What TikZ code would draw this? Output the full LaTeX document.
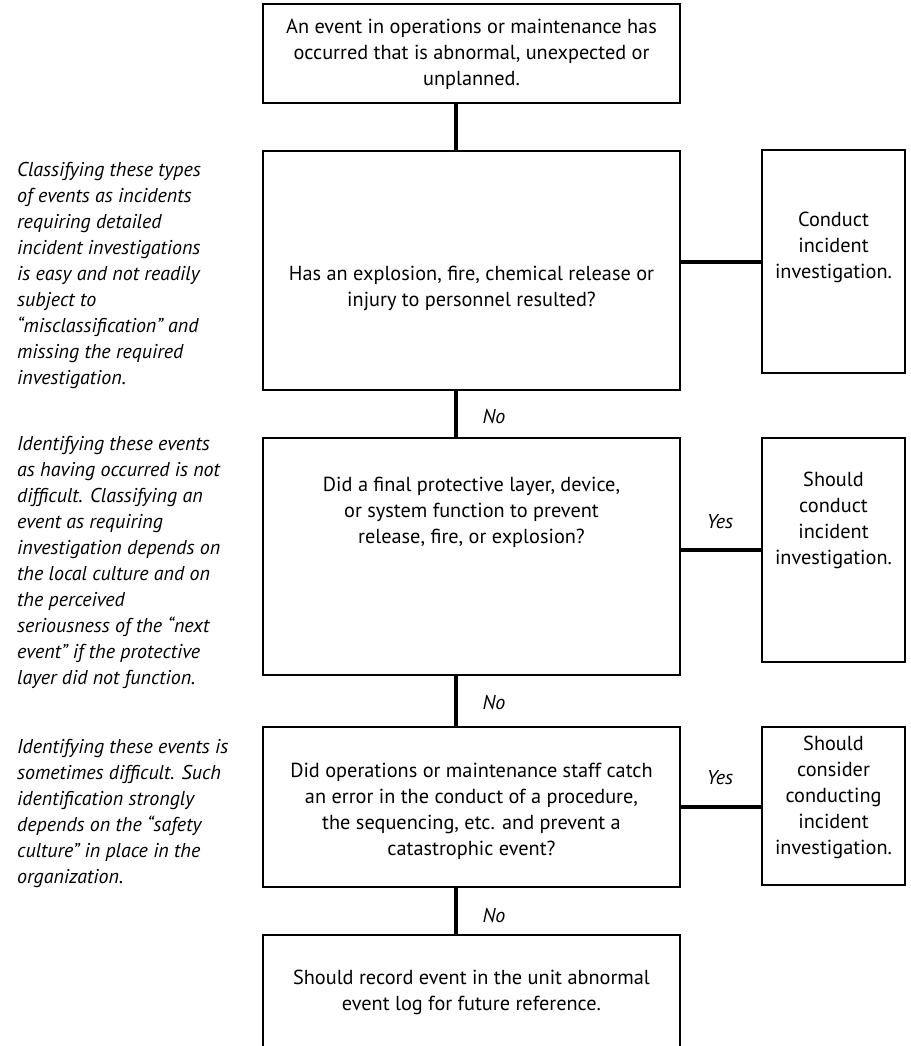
\documentclass[tikz,border=0pt]{standalone}
\usepackage{fontspec}
\setmainfont{PT Sans}
\begin{document}
\begin{tikzpicture}[x=1pt,y=-1pt,
  box/.style={draw, line width=1.8pt, inner sep=0pt, outer sep=0pt},
  txt/.style={align=center, font=\fontsize{20.3}{26}\selectfont, inner sep=0pt},
  note/.style={align=left, anchor=west, font=\fontsize{20}{26}\selectfont\itshape, inner sep=0pt},
  lbl/.style={font=\fontsize{20}{26}\selectfont\itshape, inner sep=0pt},
  conn/.style={line width=3.5pt}]
\fill[white] (0,0) rectangle (910,1046);
\useasboundingbox (0,0) rectangle (910,1046);
\clip (0,0) rectangle (910,1046);

% decision column
\node[box, minimum width=417pt, minimum height=99pt]  (top) at (471.5,53.5) {};
\node[box, minimum width=417pt, minimum height=239pt] (q1)  at (471.5,270.5) {};
\node[box, minimum width=417pt, minimum height=237pt] (q2)  at (471.5,556.5) {};
\node[box, minimum width=417pt, minimum height=160pt] (q3)  at (471.5,807) {};
\node[box, minimum width=417pt, minimum height=125pt] (q4)  at (471.5,997.5) {};

% outcome column
\node[box, minimum width=143pt, minimum height=223pt] (r1) at (833.5,261.5) {};
\node[box, minimum width=143pt, minimum height=224pt] (r2) at (833.5,550) {};
\node[box, minimum width=143pt, minimum height=158pt] (r3) at (833.5,806) {};

% box texts
\node[txt] (ttop) at (471.5,54.5) {An event in operations or maintenance has\\occurred that is abnormal, unexpected or\\unplanned.};
\node[txt] (tq1) at (471.5,288) {Has an explosion, fire, chemical release or\\injury to personnel resulted?};
\node[txt] (tq2) at (471.5,512) {Did a final protective layer, device,\\or system function to prevent\\release, fire, or explosion?};
\node[txt] (tq3) at (471.5,811) {Did operations or maintenance staff catch\\an error in the conduct of a procedure,\\the sequencing, etc. and prevent a\\catastrophic event?};
\node[txt] (tq4) at (471.5,992) {Should record event in the unit abnormal\\event log for future reference.};
\node[txt] (tr1) at (833.5,247) {Conduct\\incident\\investigation.};
\node[txt] (tr2) at (833.5,520) {Should\\conduct\\incident\\investigation.};
\node[txt] (tr3) at (833.5,797) {Should\\consider\\conducting\\incident\\investigation.};

% side notes
\node[note] (n1) at (17,275.5) {Classifying these types\\of events as incidents\\requiring detailed\\incident investigations\\is easy and not readily\\subject to\\``misclassification'' and\\missing the required\\investigation.};
\node[note] (n2) at (17,562) {Identifying these events\\as having occurred is not\\difficult. Classifying an\\event as requiring\\investigation depends on\\the local culture and on\\the perceived\\seriousness of the ``next\\event'' if the protective\\layer did not function.};
\node[note] (n3) at (17,813) {Identifying these events is\\sometimes difficult. Such\\identification strongly\\depends on the ``safety\\culture'' in place in the\\organization.};

% vertical connectors
\draw[conn] ([xshift=-15.5pt]top.south) -- ([xshift=-15.5pt]q1.north);
\draw[conn] ([xshift=-15.5pt]q1.south) -- ([xshift=-15.5pt]q2.north);
\draw[conn] ([xshift=-15.5pt]q2.south) -- ([xshift=-15.5pt]q3.north);
\draw[conn] ([xshift=-15.5pt]q3.south) -- ([xshift=-15.5pt]q4.north);

% horizontal connectors
\coordinate (h1) at (0,262);
\coordinate (h2) at (0,550);
\coordinate (h3) at (0,807);
\draw[conn] (q1.east |- h1) -- (r1.west |- h1);
\draw[conn] (q2.east |- h2) -- (r2.west |- h2);
\draw[conn] (q3.east |- h3) -- (r3.west |- h3);

% branch labels
\node[lbl] (no1) at (494,417) {No};
\node[lbl] (no2) at (494,703) {No};
\node[lbl] (no3) at (494,915) {No};
\node[lbl] (yes2) at (720,522) {Yes};
\node[lbl] (yes3) at (720,778) {Yes};
\end{tikzpicture}
\end{document}
